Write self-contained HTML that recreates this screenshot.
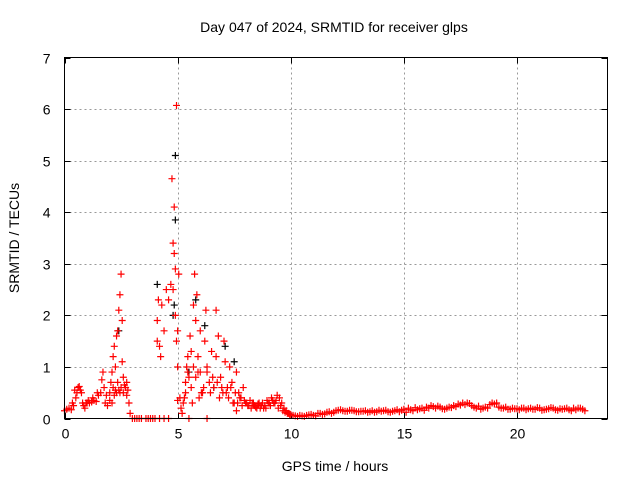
<!DOCTYPE html>
<html><head><meta charset="utf-8"><style>
body{margin:0;background:#fff}
svg text{font-family:"Liberation Sans",sans-serif;font-size:14px;fill:#000}
</style></head><body>
<svg id="chart" width="640" height="480" xmlns="http://www.w3.org/2000/svg">
<rect width="640" height="480" fill="#fff"/>
<g id="grid"></g>
<g id="ticks"></g>
<g id="marks"></g>
<rect x="64.5" y="57.5" width="543" height="361" fill="none" stroke="#000" stroke-width="1"/>
<text x="334" y="32" text-anchor="middle">Day 047 of 2024, SRMTID for receiver glps</text>
<text x="335" y="471" text-anchor="middle">GPS time / hours</text>
<text transform="translate(19,238) rotate(-90)" text-anchor="middle">SRMTID / TECUs</text>
</svg>
<script>
const xTicks=[0,5,10,15,20];
const yTicks=[0,1,2,3,4,5,6,7];
const blackT=[4.9,4.9,4.1,4.85,5.8,6.2,7.1,7.5,2.4,5.5,4.8,6.6];
const blackV=[5.1,3.85,2.6,2.2,2.3,1.8,1.4,1.1,1.7,0.9,2.0,0.6];
const redT=[0,0.1,0.2,0.3,0.4,0.5,0.55,0.6,0.65,0.7,0.75,0.8,0.9,1.0,1.1,1.2,1.3,1.4,1.5,1.6,1.7,1.75,1.8,1.9,2.0,2.05,2.1,2.15,2.2,2.25,2.3,2.35,2.4,2.45,2.5,2.5,2.55,2.6,2.6,2.7,2.75,2.8,2.85,2.9,2.3,2.2,2.4,2.1,
3.0,3.1,3.2,3.3,3.4,3.6,3.7,3.8,3.9,4.0,4.2,4.4,4.6,
4.1,4.1,4.15,4.2,4.25,4.3,4.4,4.5,4.6,4.7,4.75,4.8,4.8,4.85,4.85,4.9,4.9,4.95,4.95,5.0,5.0,5.0,5.05,5.1,5.15,5.2,5.3,5.35,5.4,5.45,5.5,5.55,5.6,5.65,5.7,5.75,5.8,5.85,5.9,5.95,6.0,6.0,6.1,6.2,6.25,6.3,6.4,6.5,6.6,6.7,6.7,6.8,6.9,7.0,7.05,7.1,7.2,7.3,7.4,7.5,7.6,7.7,7.8,7.9,8.0,8.2,8.4,8.6,8.8,9.0,9.2,9.4,9.6,9.8,5.5,6.3,7.6,8.1,8.3,8.5,8.7,8.9,9.1,9.3,9.5,9.7,9.9,
10.0,10.2,10.4,10.6,10.8,11.0,11.2,11.4,11.6,11.8,12.0,12.2,12.4,12.6,12.8,13.0,13.2,13.4,13.6,13.8,14.0,14.2,14.4,14.6,14.8,15.0,15.2,15.4,15.6,15.8,16.0,16.2,16.4,16.6,16.8,17.0,17.2,17.4,17.6,17.8,18.0,18.2,18.4,18.6,18.8,19.0,19.2,19.4,19.6,19.8,20.0,20.2,20.4,20.6,20.8,21.0,21.2,21.4,21.6,21.8,22.0,22.2,22.4,22.6,22.8,23.0,
10.1,10.5,10.9,11.3,11.7,12.1,12.5,12.9,13.3,13.7,14.1,14.5,14.9,15.3,15.7,16.1,16.5,16.9,17.3,17.7,18.1,18.5,18.9,19.3,19.7,20.1,20.5,20.9,21.3,21.7,22.1,22.5,22.9,
10.3,10.7,11.1,11.5,11.9,12.3,12.7,13.1,13.5,13.9,14.3,14.7,15.1,15.5,15.9,16.3,16.7,17.1,17.5,17.9,18.3,18.7,19.1,19.5,19.9,20.3,20.7,21.1,21.5,21.9,22.3,22.7,
0.35,0.45,0.85,0.95,1.05,1.25,1.45,1.65,1.85,2.0,2.15,2.25,2.35,2.45,2.55,2.65,2.75,
5.25,5.35,5.45,5.6,5.7,5.8,5.9,6.05,6.15,6.3,6.45,6.55,6.75,6.85,6.95,7.15,7.25,7.35,7.45,7.55,7.65,7.75,7.85,7.95,8.05,8.15,8.25,8.35,8.45,8.55,8.65,8.75,8.85,8.95,9.05,9.15,9.25,9.35,9.45,9.55,9.65,9.75,9.85,9.95];
const redV=[.15,.18,.2,.17,.25,.4,.5,.6,.62,.55,.5,.3,.2,.3,.3,.32,.35,.33,.45,.5,.9,.6,.3,.25,.5,.7,.9,1.2,1.4,1.0,1.6,1.7,2.1,2.4,2.8,.6,1.9,.5,.8,.6,.7,.55,.3,.1,.5,.45,.55,.3,
0,0,0,0,0,0,0,0,0,0,0,0,0,
1.9,1.5,2.3,1.4,1.2,2.2,1.7,2.5,2.3,2.6,4.65,3.4,2.5,4.1,3.2,2.9,2.0,6.07,1.5,1.7,1.0,.35,2.8,.4,.2,.1,.4,.5,1.0,1.2,.8,1.6,1.3,.3,2.2,2.8,1.9,2.4,1.2,.4,1.7,.9,.5,1.5,2.1,1.0,.7,1.3,.6,1.2,2.1,1.6,.8,.5,1.5,1.1,.6,1.0,.7,.3,.9,.5,.4,.6,.3,.35,.25,.3,.2,.3,.35,.45,.3,.15,0,0,.15,.25,.3,.2,.25,.2,.25,.3,.4,.2,.1,
.08,.05,.06,.04,.07,.06,.1,.08,.12,.1,.15,.17,.14,.16,.15,.13,.14,.12,.15,.13,.14,.16,.12,.15,.13,.18,.2,.15,.17,.2,.22,.25,.2,.22,.18,.22,.25,.28,.3,.3,.25,.2,.18,.22,.27,.28,.22,.2,.18,.2,.19,.2,.17,.2,.18,.2,.17,.19,.2,.16,.18,.2,.15,.17,.2,.15,
.06,.05,.08,.1,.13,.16,.14,.13,.15,.12,.15,.14,.16,.17,.19,.2,.24,.2,.23,.27,.22,.2,.3,.2,.18,.17,.19,.21,.18,.17,.19,.2,.18,
.04,.06,.05,.09,.12,.15,.16,.14,.13,.16,.13,.17,.12,.21,.16,.23,.19,.21,.26,.29,.24,.2,.3,.22,.19,.2,.18,.16,.21,.19,.17,.2,
.3,.55,.25,.3,.35,.4,.5,.75,.45,.35,.6,.55,.7,.5,1.1,.65,.45,
.3,.7,.9,.6,1.0,.8,.9,.5,.6,.9,.5,.8,.7,.4,.6,.5,.4,.6,.3,.5,.3,.4,.25,.35,.3,.25,.2,.3,.22,.28,.2,.3,.25,.35,.3,.4,.3,.35,.2,.25,.15,.12,.1,.08];
const L=64.5,R=607.5,T=57.5,B=418.5,XMAX=24,YMAX=7;
const xs=t=>L+(t/XMAX)*(R-L), ys=v=>B-(v/YMAX)*(B-T);
const NS='http://www.w3.org/2000/svg';
const grid=document.getElementById('grid'),ticks=document.getElementById('ticks'),marks=document.getElementById('marks');
function mk(tag,attrs,parent){const e=document.createElementNS(NS,tag);for(const k in attrs)e.setAttribute(k,attrs[k]);parent.appendChild(e);return e;}
xTicks.forEach(t=>{const x=Math.round(xs(t))+0.5;
 if(t>0){const g=mk('line',{x1:x,x2:x,y1:T,y2:B,stroke:'#999','stroke-dasharray':'2,3'},grid);
 
 }
 const a=mk('line',{x1:x,x2:x,y1:B,y2:B-6,stroke:'#000'},ticks);
 const b=mk('line',{x1:x,x2:x,y1:T,y2:T+6,stroke:'#000'},ticks);
 const tx=mk('text',{x:x,y:B+20,'text-anchor':'middle'},ticks);tx.textContent=t;
 
 });
yTicks.forEach(v=>{const y=Math.round(ys(v))+0.5;
 if(v>0&&v<7){const g=mk('line',{x1:L,x2:R,y1:y,y2:y,stroke:'#999','stroke-dasharray':'2,3'},grid);
 
 }
 const a=mk('line',{x1:L,x2:L+6,y1:y,y2:y,stroke:'#000'},ticks);
 const b=mk('line',{x1:R,x2:R-6,y1:y,y2:y,stroke:'#000'},ticks);
 const tx=mk('text',{x:L-14,y:y+5,'text-anchor':'end'},ticks);tx.textContent=v;
 
 });
function plus(t,v,color,name){const x=xs(t),y=ys(v);
 const p=mk('path',{d:`M${x-3.5},${y}H${x+3.5}M${x},${y-3.5}V${y+3.5}`,stroke:color,'stroke-width':1.2,fill:'none'},marks);
 
 }
blackT.forEach((t,i)=>plus(t,blackV[i],'#000','black-point'));
redT.forEach((t,i)=>plus(t,redV[i],'#f00','red-point'));
</script>
</body></html>
